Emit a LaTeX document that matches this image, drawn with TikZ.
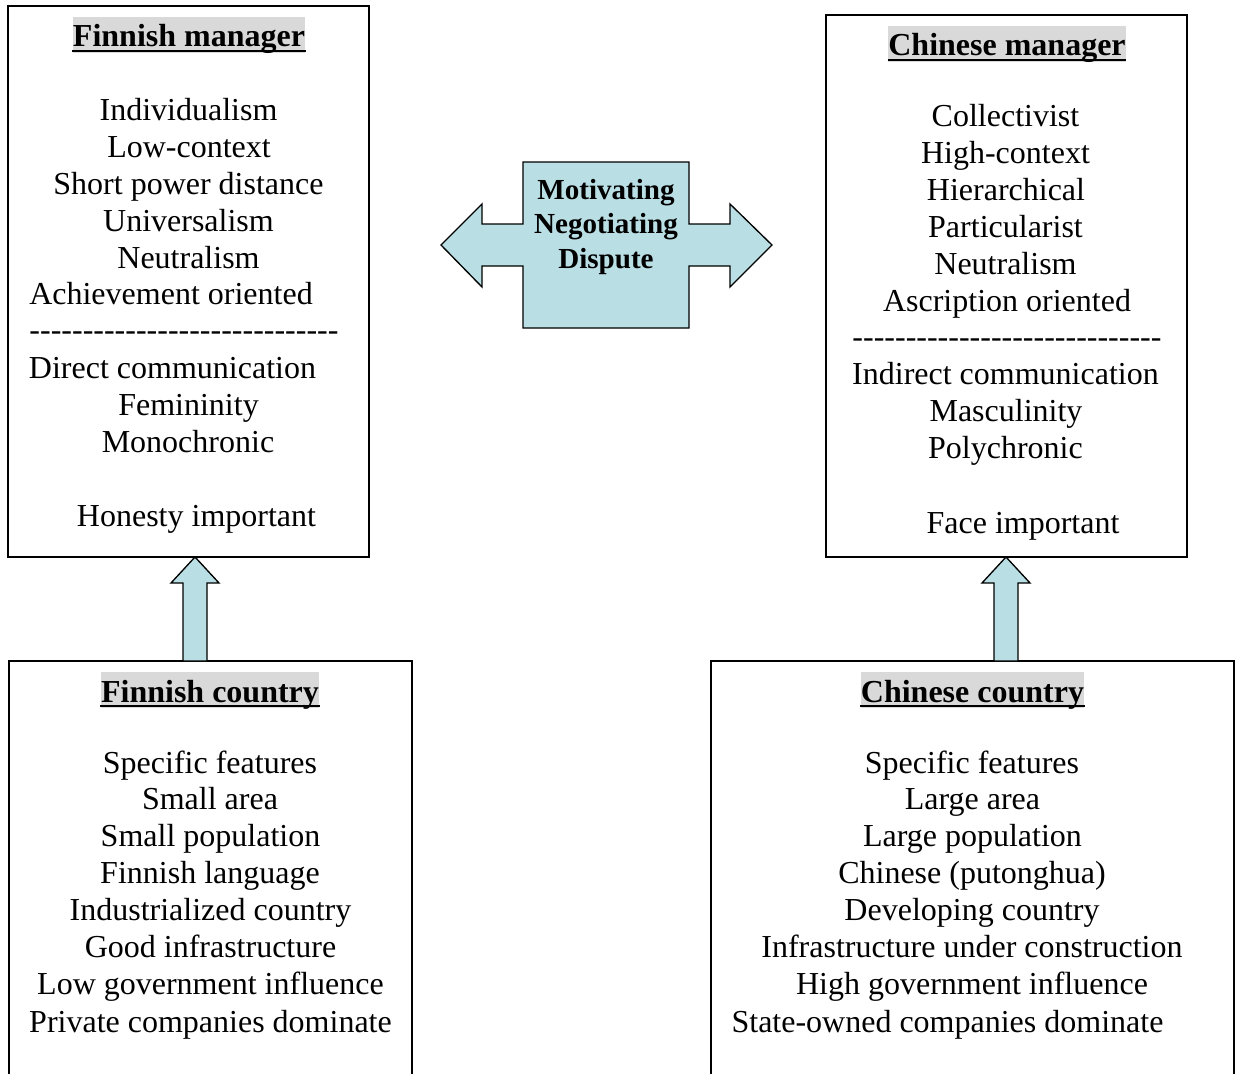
\documentclass[tikz,border=0pt]{standalone}
\usepackage{fontspec}
\setmainfont{Liberation Serif}
\newfontfamily\dashfont{Liberation Serif}[Ligatures=TeXOff]
\definecolor{arrowfill}{RGB}{185,223,228}
\definecolor{hlgray}{RGB}{217,217,217}
\begin{document}
\begin{tikzpicture}[x=0.75pt,y=-0.75pt,
  txt/.style={anchor=base,inner sep=0pt,font=\fontsize{24}{28}\selectfont},
  hd/.style={anchor=base,inner xsep=0.3pt,inner ysep=0pt,fill=hlgray,text height=22.5pt,text depth=4.5pt,font=\fontsize{24}{28}\selectfont\bfseries},
  mid/.style={anchor=base,inner sep=0pt,font=\fontsize{21.8}{26}\selectfont\bfseries},
  box/.style={draw=black,line width=1pt,anchor=north west,inner sep=0pt,outer sep=0pt},
  blockarrow/.style={draw=black,line width=1pt,fill=arrowfill,line join=miter},
  uline/.style={line width=1.5pt}]
\clip (0,0) rectangle (1235,1074);
\fill[white] (0,0) rectangle (1235,1074);

% boxes
\node[box,minimum width=270.75pt,minimum height=413.25pt] (fm) at (8,6) {};
\node[box,minimum width=270.75pt,minimum height=406.5pt] (cm) at (826,15) {};
\draw[line width=1pt] (9,1090) -- (9,661) -- (412,661) -- (412,1090);
\draw[line width=1pt] (711,1090) -- (711,661) -- (1234,661) -- (1234,1090);
\coordinate (fc) at (210,661);
\coordinate (cc) at (972,661);

% up arrows
\draw[blockarrow] (183,661) -- (183,583) -- (171,583) -- (195,557) -- (219,583) -- (207,583) -- (207,661) -- cycle;
\draw[blockarrow] (994,661) -- (994,583) -- (982,583) -- (1006,557) -- (1030,583) -- (1018,583) -- (1018,661) -- cycle;

% central double arrow
\draw[blockarrow] (523,162) -- (689,162) -- (689,224) -- (730,224) -- (730,204) -- (772,245) -- (730,287) -- (730,266) -- (689,266) -- (689,328) -- (523,328) -- (523,266) -- (482,266) -- (482,287) -- (441,245) -- (482,204) -- (482,224) -- (523,224) -- cycle;
\node[mid] (m1) at (606,199) {Motivating};
\node[mid] (m2) at (606,233.5) {Negotiating};
\node[mid] (m3) at (606,268) {Dispute};

% headings
\node[hd] (h1) at (189,47) {Finnish manager};
\draw[uline] ([yshift=-2.8pt]h1.base west) -- ([yshift=-2.8pt]h1.base east);
\node[hd] (h2) at (1007,56) {Chinese manager};
\draw[uline] ([yshift=-2.8pt]h2.base west) -- ([yshift=-2.8pt]h2.base east);
\node[hd] (h3) at (210,702) {Finnish country};
\draw[uline] ([yshift=-2.8pt]h3.base west) -- ([yshift=-2.8pt]h3.base east);
\node[hd] (h4) at (972.5,702) {Chinese country};
\draw[uline] ([yshift=-2.8pt]h4.base west) -- ([yshift=-2.8pt]h4.base east);

% Finnish manager
\node[txt] (a1) at (188.5,121) {Individualism};
\node[txt] (a2) at (189,157) {Low-context};
\node[txt] (a3) at (188.5,194) {Short power distance};
\node[txt] (a4) at (188.5,231) {Universalism};
\node[txt] (a5) at (188.5,268) {Neutralism};
\node[txt] (a6) at (171,304) {Achievement oriented};
\node[txt] (a7) at (184,340) {\dashfont -----------------------------};
\node[txt] (a8) at (172.5,378) {Direct communication};
\node[txt] (a9) at (188.5,415) {Femininity};
\node[txt] (a10) at (188,452) {Monochronic};
\node[txt] (a11) at (196.5,526) {Honesty important};

% Chinese manager
\node[txt] (b1) at (1005.5,126) {Collectivist};
\node[txt] (b2) at (1005.5,163) {High-context};
\node[txt] (b3) at (1006,200) {Hierarchical};
\node[txt] (b4) at (1005.5,237) {Particularist};
\node[txt] (b5) at (1005.5,274) {Neutralism};
\node[txt] (b6) at (1007,311) {Ascription oriented};
\node[txt] (b7) at (1007,347) {\dashfont -----------------------------};
\node[txt] (b8) at (1005.5,384) {Indirect communication};
\node[txt] (b9) at (1006,421) {Masculinity};
\node[txt] (b10) at (1005.5,458) {Polychronic};
\node[txt] (b11) at (1023,533) {Face important};

% Finnish country
\node[txt] (c1) at (210,773) {Specific features};
\node[txt] (c2) at (210,809) {Small area};
\node[txt] (c3) at (210.5,846) {Small population};
\node[txt] (c4) at (210,883) {Finnish language};
\node[txt] (c5) at (210.5,920) {Industrialized country};
\node[txt] (c6) at (210.5,957) {Good infrastructure};
\node[txt] (c7) at (210.5,994) {Low government influence};
\node[txt] (c8) at (210.5,1032) {Private companies dominate};

% Chinese country
\node[txt] (d1) at (972,773) {Specific features};
\node[txt] (d2) at (972.5,809) {Large area};
\node[txt] (d3) at (972.5,846) {Large population};
\node[txt] (d4) at (972,883) {Chinese (putonghua)};
\node[txt] (d5) at (972,920) {Developing country};
\node[txt] (d6) at (972,957) {Infrastructure under construction};
\node[txt] (d7) at (972,994) {High government influence};
\node[txt] (d8) at (947.5,1032) {State-owned companies dominate};
\end{tikzpicture}
\end{document}
